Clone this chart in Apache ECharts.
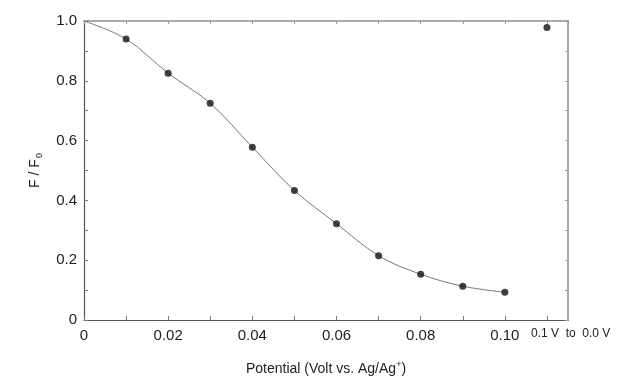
<!DOCTYPE html>
<html>
<head>
<meta charset="utf-8">
<script src="https://cdn.jsdelivr.net/npm/echarts@6/dist/echarts.min.js"></script>
<style>html,body{margin:0;padding:0;background:#fff;}#c{width:620px;height:382px;}</style>
</head>
<body>
<div id="c"></div>
<script>
// Measured points (potential in V, F/F0)
const potentials = [0.01, 0.02, 0.03, 0.04, 0.05, 0.06, 0.07, 0.08, 0.09, 0.10];
const ratios = [0.940, 0.825, 0.725, 0.578, 0.433, 0.322, 0.215, 0.153, 0.113, 0.093];
// Point after stepping back from 0.1 V to 0.0 V
const returnX = [0.11];
const returnY = [0.978];
// Fitted curve start
const curveStartX = [0];
const curveStartY = [1.0];
const xTickLabels = ['0', '0.02', '0.04', '0.06', '0.08', '0.10'];
const yTickLabels = ['0', '0.2', '0.4', '0.6', '0.8', '1.0'];
const returnLabel = '0.1 V  to  0.0 V';

const chart = echarts.init(document.getElementById('c'));
const font = 'Liberation Sans, Arial, sans-serif';

const curveData = curveStartX.map((x, i) => [x, curveStartY[i]])
  .concat(potentials.map((x, i) => [x, ratios[i]]));
const pointData = potentials.map((x, i) => [x, ratios[i]]);
const returnData = returnX.map((x, i) => [x, returnY[i]]);

function xFmt(v) {
  const idx = Math.round(v / 0.02 * 1000) / 1000;
  if (Number.isInteger(idx) && idx < xTickLabels.length) return xTickLabels[idx];
  return '';
}
function yFmt(v) {
  const idx = Math.round(v / 0.2 * 1000) / 1000;
  if (Number.isInteger(idx) && idx < yTickLabels.length) return yTickLabels[idx];
  return '';
}

chart.setOption({
  animation: false,
  backgroundColor: '#fff',
  grid: { left: 84, right: 52, top: 21, bottom: 62 },
  xAxis: [{
    type: 'value', min: 0, max: 0.115, interval: 0.01,
    position: 'bottom',
    axisLine: { onZero: false, lineStyle: { color: '#555', width: 1.2 } },
    axisTick: { inside: true, length: 4, lineStyle: { color: '#777' } },
    axisLabel: { formatter: xFmt, color: '#222', fontSize: 15, fontFamily: font, margin: 8, showMaxLabel: false },
    splitLine: { show: false },
    name: '{a|Potential (Volt vs. Ag/Ag}{s|+}{a|)}',
    nameLocation: 'middle', nameGap: 40,
    nameTextStyle: {
      rich: {
        a: { fontSize: 14, fontFamily: font, color: '#222', lineHeight: 18 },
        s: { fontSize: 9, fontFamily: font, color: '#222', verticalAlign: 'top', lineHeight: 18, padding: [0, 0, 8, 0] }
      }
    }
  }, {
    type: 'value', min: 0, max: 0.115, interval: 0.01,
    position: 'top',
    axisLine: { show: true, onZero: false, lineStyle: { color: '#aaa', width: 2 } },
    axisTick: { show: true, inside: true, length: 3, lineStyle: { color: '#999' } },
    axisLabel: { show: false },
    splitLine: { show: false }
  }],
  yAxis: [{
    type: 'value', min: 0, max: 1.0, interval: 0.1,
    axisLine: { show: true, onZero: false, lineStyle: { color: '#555', width: 1.2 } },
    axisTick: { show: true, inside: true, length: 4, lineStyle: { color: '#777' } },
    axisLabel: { formatter: yFmt, color: '#222', fontSize: 15, fontFamily: font, margin: 7 },
    splitLine: { show: false },
    name: '{a|F / F}{s|0}',
    nameLocation: 'middle', nameGap: 40, nameRotate: 90,
    nameTextStyle: {
      rich: {
        a: { fontSize: 14, fontFamily: font, color: '#222', lineHeight: 18 },
        s: { fontSize: 9, fontFamily: font, color: '#222', verticalAlign: 'bottom', lineHeight: 18, padding: [8, 0, 0, 1] }
      }
    }
  }, {
    type: 'value', min: 0, max: 1.0, interval: 0.1,
    position: 'right',
    axisLine: { show: true, onZero: false, lineStyle: { color: '#aaa', width: 2 } },
    axisTick: { show: true, inside: true, length: 3, lineStyle: { color: '#999' } },
    axisLabel: { show: false },
    splitLine: { show: false }
  }],
  series: [{
    type: 'line', data: curveData, smooth: 0.35, showSymbol: false,
    lineStyle: { color: '#777', width: 1 }, z: 2
  }, {
    type: 'scatter', data: pointData, symbolSize: 7,
    itemStyle: { color: '#111' }, z: 3
  }, {
    type: 'scatter', data: returnData, symbolSize: 7,
    itemStyle: { color: '#111' }, z: 3
  }]
});

const p = chart.convertToPixel({ xAxisIndex: 0, yAxisIndex: 0 }, [returnX[0], 0]);
chart.setOption({
  graphic: [{
    type: 'text', left: p[0] - 16, top: p[1] + 8,
    style: { text: returnLabel, fontSize: 12, fontFamily: font, fill: '#222' }
  }]
});
</script>
</body>
</html>
